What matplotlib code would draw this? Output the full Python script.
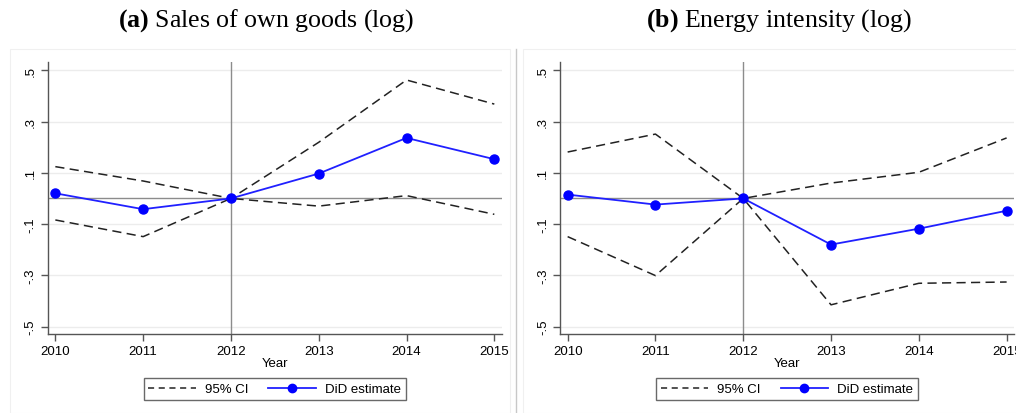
import matplotlib.pyplot as plt
from matplotlib.lines import Line2D
from matplotlib.patches import Rectangle

plt.rcParams['mathtext.fontset'] = 'custom'
plt.rcParams['mathtext.rm'] = 'Liberation Serif'
plt.rcParams['mathtext.bf'] = 'Liberation Serif:bold'

years = [2010, 2011, 2012, 2013, 2014, 2015]

# (a) sales of own goods
sales_did = [0.020, -0.042, 0.0, 0.097, 0.236, 0.153]
sales_hi = [0.124, 0.068, 0.0, 0.219, 0.462, 0.368]
sales_lo = [-0.084, -0.149, 0.0, -0.030, 0.011, -0.062]

# (b) energy intensity
energy_did = [0.015, -0.024, 0.0, -0.180, -0.118, -0.048]
energy_hi = [0.181, 0.251, 0.0, 0.060, 0.102, 0.236]
energy_lo = [-0.149, -0.301, 0.0, -0.415, -0.331, -0.326]

yticks = [0.5, 0.3, 0.1, -0.1, -0.3, -0.5]
ytick_labels = ['.5', '.3', '.1', '-.1', '-.3', '-.5']

panels = [
    ('(a)', 'Sales of own goods (log)', sales_did, sales_hi, sales_lo),
    ('(b)', 'Energy intensity (log)', energy_did, energy_hi, energy_lo),
]

W, H = 1016, 414
fig = plt.figure(figsize=(W / 100, H / 100), dpi=100)
fig.patch.set_facecolor('white')

sans = 'Liberation Sans'
serif = 'Liberation Serif'
blue = '#2020ff'
dark = '#222222'

ax_left = [47.7, 560.0]
ax_w = 454.0
ax_top, ax_bot = 63.3, 335.3
box_left = [10, 523]

for i, (tag, title, did, hi, lo) in enumerate(panels):
    # faint outer frame of each graph
    fig.patches.append(Rectangle((box_left[i] / W, 0), 500 / W, (H - 50) / H,
                                 transform=fig.transFigure, fill=False,
                                 edgecolor='#f0f0f0', lw=0.8, zorder=0))

    ax = fig.add_axes([ax_left[i] / W, 1 - ax_bot / H, ax_w / W, (ax_bot - ax_top) / H])
    ax.set_xlim(2009.913, 2015.084)
    ax.set_ylim(-0.53, 0.531)

    for y in yticks:
        ax.axhline(y, color='#ececec', lw=1.0, zorder=0)
    ax.axhline(0, color='#8c8c8c', lw=1.0, zorder=1)
    ax.axvline(2012, color='#8c8c8c', lw=1.0, zorder=1)

    ax.plot(years, hi, color=dark, lw=1.1, dashes=(6, 3.5), zorder=2)
    ax.plot(years, lo, color=dark, lw=1.1, dashes=(6, 3.5), zorder=2)
    ax.plot(years, did, color=blue, lw=1.3, marker='o', ms=6.5,
            markerfacecolor='#0000ff', markeredgecolor='#0000ff', zorder=3)

    for s in ['top', 'right']:
        ax.spines[s].set_visible(False)
    for s in ['left', 'bottom']:
        ax.spines[s].set_color('#555555')
        ax.spines[s].set_linewidth(1.0)

    ax.set_xticks(years)
    ax.set_xticklabels([str(y) for y in years], fontsize=9.5, family=sans)
    ax.set_yticks(yticks)
    ax.set_yticklabels(ytick_labels, fontsize=9.5, family=sans, rotation=90, va='center')
    ax.tick_params(direction='out', length=5, width=1.0, color='#555555', pad=3)
    ax.set_xlabel('Year', fontsize=9.5, family=sans, labelpad=0)

    cx = (ax_left[i] + ax_w / 2) / W
    fig.text(cx - 0.008, 1 - 21 / H, r'$\mathbf{%s}$ %s' % (tag, title), ha='center',
             va='center', fontsize=18.6, family=serif)

    handles = [
        Line2D([], [], color=dark, lw=1.1, dashes=(4, 3)),
        Line2D([], [], color=blue, lw=1.3, marker='o', ms=6, markerfacecolor='#0000ff',
               markeredgecolor='#0000ff'),
    ]
    leg = fig.legend(handles, ['95% CI', 'DiD estimate'], loc='center',
                     bbox_to_anchor=(cx, 1 - 390 / H), ncol=2, frameon=True,
                     fancybox=False, edgecolor='#444444', handlelength=3.6,
                     columnspacing=1.5, handletextpad=0.7, borderpad=0.35,
                     borderaxespad=0, prop={'family': sans, 'size': 9.5})
    leg.get_frame().set_linewidth(1.0)

# separator between the two graphs
fig.add_artist(Line2D([515.7 / W, 515.7 / W], [0, 1 - 50 / H], transform=fig.transFigure,
                      color='#c8c8c8', lw=1.0))

fig.savefig('out.png', dpi=100)
